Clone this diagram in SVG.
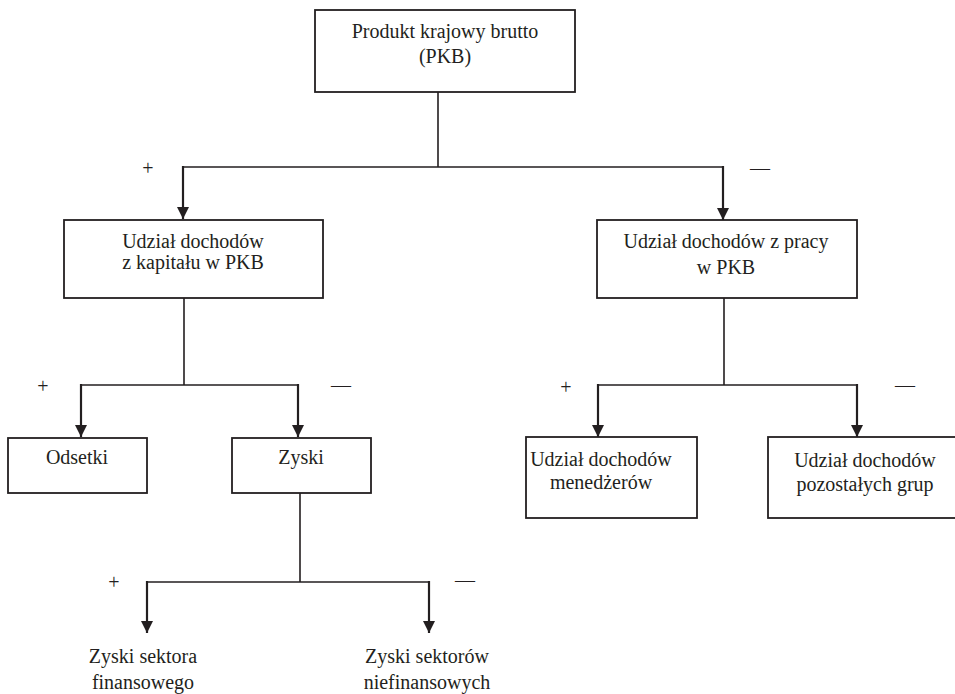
<svg xmlns="http://www.w3.org/2000/svg" width="955" height="694" viewBox="0 0 955 694">
<style>
  .box { fill: #ffffff; stroke: #231f20; stroke-width: 1.8; }
  .t { font-family: 'Liberation Serif', 'DejaVu Serif', 'Times New Roman', Times, serif; font-size: 20px; fill: #231f20; text-anchor: middle; }
  .sign { font-family: 'Liberation Serif', 'DejaVu Serif', 'Times New Roman', Times, serif; font-size: 20px; fill: #231f20; text-anchor: middle; }
  .line { fill: none; stroke: #231f20; stroke-width: 1.6; }
  .arr { fill: none; stroke: #231f20; stroke-width: 2.2; marker-end: url(#ah); }
</style>
<defs>
  <marker id="ah" viewBox="0 0 12 12" refX="12" refY="6" markerWidth="12" markerHeight="12" markerUnits="userSpaceOnUse" orient="auto">
    <path d="M0,0 L12,6 L0,12 z" fill="#231f20"/>
  </marker>
</defs>
<rect width="955" height="694" fill="#ffffff"/>

<g id="connectors">
  <path class="line" d="M438,92 V167 M183,167 H723"/>
  <path class="arr" d="M183,166 V219"/>
  <path class="arr" d="M723,166 V220"/>
  <path class="line" d="M184,298 V385 M81,385 H298"/>
  <path class="arr" d="M81,384 V437"/>
  <path class="arr" d="M298,384 V437"/>
  <path class="line" d="M724,298 V385 M598,385 H857"/>
  <path class="arr" d="M598,384 V437"/>
  <path class="arr" d="M857,384 V437"/>
  <path class="line" d="M300,493 V582 M147,582 H429"/>
  <path class="arr" d="M147,581 V633"/>
  <path class="arr" d="M429,581 V633"/>
</g>

<g id="signs">
  <text class="sign" x="148" y="175">+</text>
  <text class="sign" x="760" y="175">—</text>
  <text class="sign" x="43" y="393">+</text>
  <text class="sign" x="341" y="392">—</text>
  <text class="sign" x="566" y="394">+</text>
  <text class="sign" x="905" y="392">—</text>
  <text class="sign" x="114" y="589">+</text>
  <text class="sign" x="465" y="587">—</text>
</g>

<g id="pkb">
  <rect class="box" x="315" y="10" width="260" height="82"/>
  <text class="t" x="445" y="38">Produkt krajowy brutto</text>
  <text class="t" x="445" y="63">(PKB)</text>
</g>

<g id="kapital">
  <rect class="box" x="64" y="220" width="259" height="78"/>
  <text class="t" x="193" y="248">Udział dochodów</text>
  <text class="t" x="193" y="269">z kapitału w PKB</text>
</g>

<g id="praca">
  <rect class="box" x="597" y="220" width="260" height="78"/>
  <text class="t" x="726" y="248">Udział dochodów z  pracy</text>
  <text class="t" x="726" y="274">w PKB</text>
</g>

<g id="odsetki">
  <rect class="box" x="8" y="438" width="139" height="55"/>
  <text class="t" x="77" y="464">Odsetki</text>
</g>

<g id="zyski">
  <rect class="box" x="232" y="438" width="139" height="55"/>
  <text class="t" x="301" y="464">Zyski</text>
</g>

<g id="menedzerowie">
  <rect class="box" x="526" y="437" width="171" height="81"/>
  <text class="t" x="601" y="466">Udział dochodów</text>
  <text class="t" x="601" y="489">menedżerów</text>
</g>

<g id="pozostali">
  <rect class="box" x="768" y="437" width="196" height="81"/>
  <text class="t" x="865" y="467">Udział dochodów</text>
  <text class="t" x="865" y="491">pozostałych grup</text>
</g>

<g id="finansowy">
  <text class="t" x="143" y="663">Zyski sektora</text>
  <text class="t" x="143" y="689">finansowego</text>
</g>

<g id="niefinansowy">
  <text class="t" x="427" y="663">Zyski sektorów</text>
  <text class="t" x="427" y="689">niefinansowych</text>
</g>
</svg>
